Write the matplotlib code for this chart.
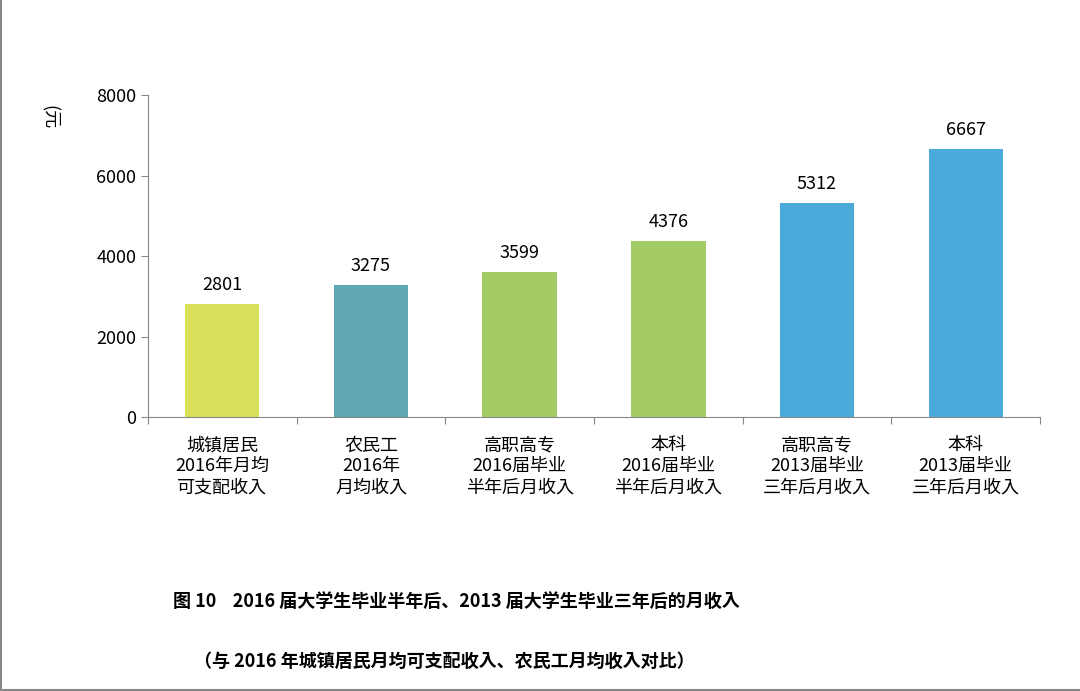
import matplotlib
matplotlib.use("Agg")
import matplotlib.pyplot as plt
from matplotlib import font_manager as fm
import numpy as np

cjk = None
for f in fm.findSystemFonts():
    if "CJK" in f or "cjk" in f.lower():
        fm.fontManager.addfont(f)
        if cjk is None or "SC" in f:
            cjk = f
names = [fm.FontProperties(fname=cjk).get_name()] if cjk else []
plt.rcParams["font.family"] = "sans-serif"
plt.rcParams["font.sans-serif"] = names + ["Noto Sans CJK SC", "Noto Sans CJK JP", "DejaVu Sans"]

categories = ["城镇居民\n2016年月均\n可支配收入", "农民工\n2016年\n月均收入", "高职高专\n2016届毕业\n半年后月收入",
              "本科\n2016届毕业\n半年后月收入", "高职高专\n2013届毕业\n三年后月收入", "本科\n2013届毕业\n三年后月收入"]
values = [2801, 3275, 3599, 4376, 5312, 6667]
colors = ["#D9E05A", "#5FA7B5", "#A3CB66", "#A3CB66", "#4AABDB", "#4AABDB"]
yticks = [0, 2000, 4000, 6000, 8000]

fig = plt.figure(figsize=(10.8, 6.91), dpi=100)
ax = fig.add_axes([0.137, 0.3965, 0.826, 0.466])
x = np.arange(len(values))
ax.bar(x, values, width=0.5, color=colors)
for xi, v in zip(x, values):
    ax.text(xi, v + 250, str(v), ha="center", va="bottom", fontsize=13)
ax.set_xlim(-0.5, len(values) - 0.5)
ax.set_ylim(0, 8000)
ax.set_yticks(yticks)
ax.set_yticklabels([str(t) for t in yticks], fontsize=13)
ax.set_xticks(np.arange(-0.5, len(values)), minor=False)
ax.set_xticklabels([])
ax.set_xticks(x, minor=True)
ax.set_xticklabels(categories, minor=True, fontsize=13, linespacing=1.2)
ax.tick_params(axis="x", which="minor", length=0, pad=14)
ax.tick_params(axis="x", which="major", length=5, color="#888888")
ax.tick_params(axis="y", length=5, color="#888888")
for s in ["top", "right"]:
    ax.spines[s].set_visible(False)
for s in ["left", "bottom"]:
    ax.spines[s].set_color("#888888")
fig.text(0.045, 0.83, "(元", rotation=-90, fontsize=13, ha="center", va="center")
fig.text(0.16, 0.13, "图 10    2016 届大学生毕业半年后、2013 届大学生毕业三年后的月收入",
         fontsize=13, fontweight="bold", ha="left", va="center")
fig.text(0.18, 0.043, "（与 2016 年城镇居民月均可支配收入、农民工月均收入对比）",
         fontsize=13, fontweight="bold", ha="left", va="center")
fig.add_artist(plt.Line2D([0.001, 0.001], [0, 1], color="#888888", lw=1.5, transform=fig.transFigure))
fig.add_artist(plt.Line2D([0, 1], [0.002, 0.002], color="#888888", lw=1.5, transform=fig.transFigure))
fig.savefig("out.png", dpi=100)
